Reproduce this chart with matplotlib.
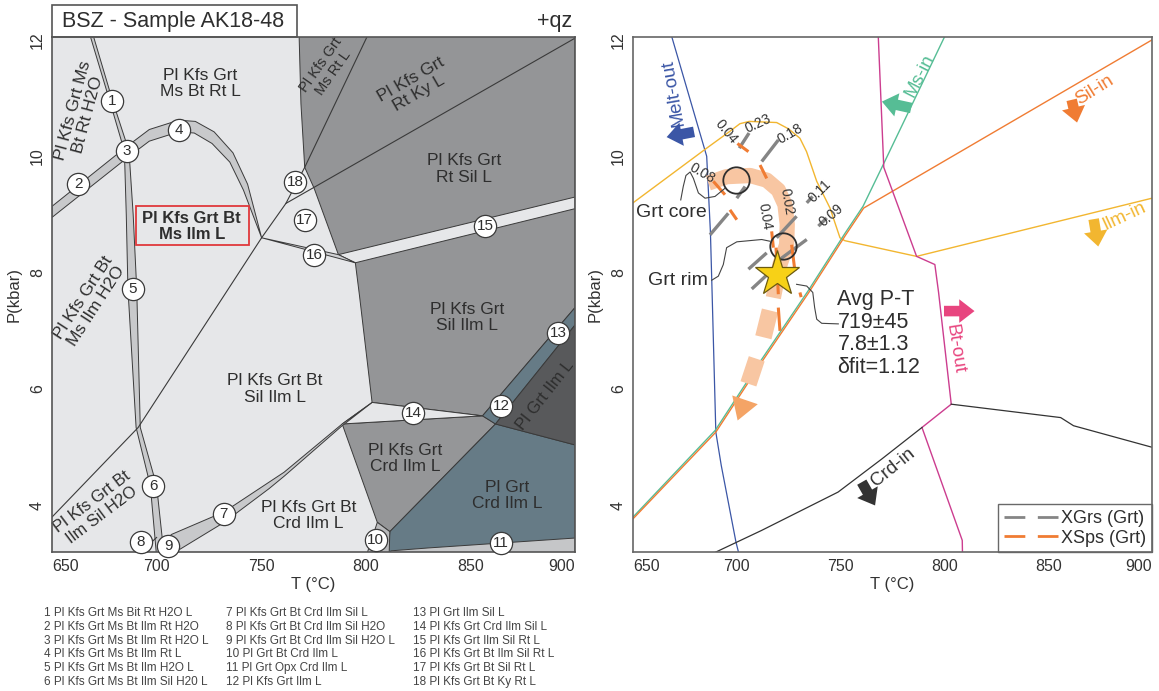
import matplotlib.pyplot as plt
from matplotlib.patches import Polygon, Rectangle
from matplotlib.lines import Line2D

plt.rcParams['font.family'] = ['Liberation Sans', 'DejaVu Sans']

t_range = (650, 900)
p_range = (3.2, 12.05)
t_ticks = [650, 700, 750, 800, 850, 900]
p_ticks = [4, 6, 8, 10, 12]

# ---------------- left panel: pseudosection (T degC, P kbar) ----------------
fld_dark = [(768.1, 12.1), (769.0, 10.9), (770.8, 9.81), (775.3, 9.45), (786.9, 8.31),
            (795.0, 8.17), (797.0, 7.6), (803.0, 5.77), (855.8, 5.54), (900, 7.4), (900, 12.1)]
fld_crd = [(788.7, 5.40), (855.8, 5.54), (862.0, 5.40), (811.5, 3.55), (805.5, 3.71)]
fld_grt_ilm = [(862.0, 5.40), (900, 5.04), (900, 7.1)]
fld_sliver = [(855.8, 5.54), (900, 7.4), (900, 7.1), (862.0, 5.40)]
fld_grt_crd = [(862.0, 5.40), (900, 5.04), (900, 3.0), (810, 3.0), (811.5, 3.55)]
fld_opx = [(811, 3.0), (812, 3.22), (830, 3.27), (900, 3.44), (900, 3.0)]
fld_10 = [(799, 3.0), (805.5, 3.71), (811.5, 3.55), (811, 3.0)]

band_a_l = [(668.0, 12.1), (677.6, 10.95), (684.6, 10.09), (685.5, 9.0), (686.3, 7.72), (690.2, 5.34), (697.0, 4.34), (700.3, 3.0)]
band_a_r = [(669.5, 12.1), (679.0, 10.95), (686.8, 10.09), (688.8, 9.0), (690.5, 7.72), (692.2, 5.34), (700.0, 4.34), (704.0, 3.0)]
band_b_up = [(650, 9.14), (685.8, 10.17), (696.5, 10.46), (710.5, 10.62), (718.5, 10.6),
             (727.5, 10.42), (736.5, 10.06), (743.5, 9.52), (750.2, 8.6)]
band_b_lo = [(650, 8.95), (685.8, 9.97), (696.5, 10.26), (710.5, 10.42), (718.0, 10.4),
             (726.5, 10.22), (735.0, 9.9), (741.5, 9.42), (750.2, 8.6)]
band_c_up = [(703.5, 3.3), (707.0, 3.5), (732.3, 3.89), (760.9, 4.57), (788.7, 5.40), (803.0, 5.77)]
band_c_lo = [(709.0, 3.2), (732.3, 3.71), (753.8, 4.29), (760.9, 4.50), (788.7, 5.37), (803.0, 5.77)]
band_15_up = [(786.9, 8.31), (900, 9.30)]
band_15_lo = [(795.0, 8.17), (900, 9.10)]
band_16 = [(750.2, 8.6), (786.9, 8.31), (795.0, 8.17)]
wedge_14 = [(788.7, 5.40), (803.0, 5.77), (855.8, 5.54)]

line_c = [(750.2, 8.6), (691.2, 5.34), (650, 3.8)]
line_d = [(750.2, 8.6), (761.8, 9.19), (770.8, 9.81), (801.2, 12.1)]
line_kysil = [(761.8, 9.19), (900, 12.03)]
line_8 = [(686.5, 3.0), (700.0, 3.45)]

circles = {1: (678.6, 10.95), 2: (662.5, 9.53), 3: (685.8, 10.09), 4: (710.5, 10.45),
           5: (688.5, 7.72), 6: (698.3, 4.34), 7: (732.0, 3.86), 8: (692.6, 3.37),
           9: (705.5, 3.3), 10: (804.8, 3.4), 11: (864.7, 3.36), 12: (864.7, 5.71),
           13: (892.0, 6.96), 14: (822.7, 5.59), 15: (857.0, 8.81), 16: (775.3, 8.31),
           17: (770.8, 8.91), 18: (766.3, 9.56)}

field_labels = [
    ('Pl Kfs Grt\nMs Bt Rt L', 721.0, 11.25, 0, 12.5),
    ('Pl Kfs Grt Ms\nBt Rt H2O', 663.5, 10.75, 75, 12.5),
    ('Pl Kfs Grt\nMs Rt L', 781.5, 11.5, 55, 10.5),
    ('Pl Kfs Grt\nRt Ky L', 823.5, 11.2, 30, 12.5),
    ('Pl Kfs Grt\nRt Sil L', 847.0, 9.78, 0, 12.5),
    ('Pl Kfs Grt Bt\nMs Ilm H2O', 668.0, 7.5, 57, 12.5),
    ('Pl Kfs Grt\nSil Ilm L', 848.6, 7.23, 0, 12.5),
    ('Pl Kfs Grt Bt\nSil Ilm L', 756.5, 6.0, 0, 12.5),
    ('Pl Grt Ilm L', 885.5, 5.9, 52, 12),
    ('Pl Kfs Grt\nCrd Ilm L', 819.0, 4.8, 0, 12.5),
    ('Pl Grt\nCrd Ilm L', 867.4, 4.17, 0, 12.5),
    ('Pl Kfs Grt Bt\nCrd Ilm L', 772.6, 3.83, 0, 12.5),
    ('Pl Kfs Grt Bt\nIlm Sil H2O', 671.5, 3.95, 37, 12),
]

reactions = ['1 Pl Kfs Grt Ms Bit Rt H2O L', '2 Pl Kfs Grt Ms Bt Ilm Rt H2O',
             '3 Pl Kfs Grt Ms Bt Ilm Rt H2O L', '4 Pl Kfs Grt Ms Bt Ilm Rt L',
             '5 Pl Kfs Grt Ms Bt Ilm H2O L', '6 Pl Kfs Grt Ms Bt Ilm Sil H20 L',
             '7 Pl Kfs Grt Bt Crd Ilm Sil L', '8 Pl Kfs Grt Bt Crd Ilm Sil H2O',
             '9 Pl Kfs Grt Bt Crd Ilm Sil H2O L', '10 Pl Grt Bt Crd Ilm L',
             '11 Pl Grt Opx Crd Ilm L', '12 Pl Kfs Grt Ilm L',
             '13 Pl Grt Ilm Sil L', '14 Pl Kfs Grt Crd Ilm Sil L',
             '15 Pl Kfs Grt Ilm Sil Rt L', '16 Pl Kfs Grt Bt Ilm Sil Rt L',
             '17 Pl Kfs Grt Bt Sil Rt L', '18 Pl Kfs Grt Bt Ky Rt L']

# ---------------- right panel: phase boundaries ----------------
melt_out = [(668.3, 12.1), (685.5, 10.0), (687.3, 8.69), (688.1, 7.66), (689.9, 5.26),
            (692.5, 4.69), (699.6, 3.37), (702.2, 3.0)]
ilm_in = [(650, 9.2), (685.5, 10.14), (696.7, 10.43), (701.5, 10.56), (706.0, 10.6),
          (719.2, 10.58), (725.0, 10.47), (730.4, 10.31), (733.6, 10.08), (738.5, 9.57),
          (744.9, 9.11), (749.7, 8.6), (752.0, 8.55), (786.6, 8.28), (900, 9.28)]
ms_in = [(650, 3.8), (689.6, 5.29), (711.6, 6.49), (734.4, 7.69), (752.0, 8.67),
         (760.8, 9.14), (769.9, 9.81), (800.7, 12.1)]
sil_in = [(650, 3.77), (689.9, 5.26), (711.9, 6.46), (734.7, 7.66), (752.3, 8.64),
          (761.1, 9.11), (900, 12.0)]
bt_out = [(768.1, 12.1), (770.8, 9.81), (786.6, 8.28), (795.4, 8.14), (797.2, 7.66),
          (803.3, 5.74), (789.2, 5.34), (808.6, 3.4), (808.8, 3.0)]
crd_in = [(680.0, 3.03), (686.4, 3.14), (711.9, 3.57), (748.8, 4.23), (769.9, 4.8),
          (789.2, 5.34)]
crd_in_hi = [(803.3, 5.74), (856.0, 5.51), (862.2, 5.37), (900, 5.0)]

xgrs = [((701.2, 10.14), (705.9, 10.40)), ((712.0, 9.91), (720.0, 10.28)),
        ((700.0, 9.28), (704.0, 9.48)), ((687.1, 8.65), (695.9, 9.02)),
        ((719.2, 8.60), (728.8, 8.97)), ((733.7, 9.20), (736.5, 9.31)),
        ((739.3, 8.80), (743.3, 8.94)), ((705.6, 8.06), (714.4, 8.34)),
        ((707.2, 7.72), (718.4, 8.09)), ((720.8, 8.23), (733.7, 8.57))]
xsps = [((700.3, 10.22), (705.6, 10.08)), ((711.2, 9.85), (714.4, 9.62)),
        ((688.7, 9.57), (694.3, 9.34)), ((696.7, 9.08), (700.0, 8.91)),
        ((716.8, 8.71), (717.6, 8.43)), ((718.9, 8.43), (720.0, 7.63)),
        ((726.4, 8.48), (728.0, 8.03)), ((720.0, 7.40), (720.8, 7.00)),
        ((730.4, 7.66), (731.0, 7.58))]
iso_labels = [('0.04', 695.1, 10.42, -50), ('0.23', 710.4, 10.56, 25), ('0.18', 725.6, 10.39, 30),
              ('0.08', 683.1, 9.71, -30), ('0.04', 713.6, 8.97, -80), ('0.02', 724.0, 9.22, -80),
              ('0.11', 740.1, 9.40, 45), ('0.09', 745.5, 8.99, 40)]

pt_path = [(686.3, 9.54), (695.1, 9.65), (706.4, 9.67), (714.4, 9.59), (720.0, 9.42),
           (723.2, 9.17), (724.3, 8.83), (724.0, 8.48), (720.8, 8.14), (717.6, 7.57)]
pt_dashes = [((716.0, 7.35), (712.8, 6.89)), ((709.6, 6.52), (705.6, 6.09))]
pt_head = [(697.8, 5.89), (710.1, 5.74), (700.4, 5.46)]
grt_core = (699.6, 9.59)
grt_rim = (722.3, 8.45)
avg_pt = (719.5, 7.97)
core_leader = [(694.3, 9.45), (689.5, 9.31), (684.7, 9.28), (681.5, 9.37), (679.1, 9.62),
               (677.5, 9.73), (675.5, 9.67), (674.2, 9.48), (673.0, 9.25)]
rim_leader = [(716.0, 8.54), (712.0, 8.57), (700.0, 8.53), (695.1, 8.43), (693.5, 8.14),
              (691.1, 7.94), (687.9, 7.87)]
avg_leader = [(728.8, 7.80), (733.7, 7.77), (736.6, 7.66), (737.5, 7.40), (738.5, 7.20),
              (740.9, 7.13), (748.9, 7.12)]

# name, label pos, rotation, arrow tail, arrow head, colour
boundary_tags = [
    ('Melt-out', (669.3, 11.1), 100, (679.4, 10.42), (666.2, 10.33), '#3b56a6'),
    ('Ms-in', (788.4, 11.39), 63, (784.0, 10.83), (769.9, 10.94), '#56bd95'),
    ('Sil-in', (872.5, 11.14), 32, (861.3, 10.97), (863.9, 10.58), '#f07c33'),
    ('Ilm-in', (886.5, 8.97), 25, (871.9, 8.92), (874.1, 8.45), '#f2b630'),
    ('Bt-out', (805.1, 6.69), -81, (799.8, 7.34), (814.5, 7.34), '#e8457f'),
    ('Crd-in', (775.2, 4.66), 39, (760.2, 4.40), (766.6, 4.00), '#333333'),
]


def style_axes(ax, edge):
    ax.set_xlim(*t_range)
    ax.set_ylim(*p_range)
    ax.set_xticks(t_ticks)
    ax.set_yticks(p_ticks)
    ax.tick_params(length=0, labelsize=11.5, labelcolor='#333333', pad=5)
    ax.tick_params(axis='y', labelrotation=90)
    plt.setp(ax.get_yticklabels(), va='center')
    xl = ax.get_xticklabels()
    xl[0].set_ha('left')
    xl[-1].set_ha('right')
    ax.set_xlabel('T (°C)', fontsize=12, color='#333333', labelpad=2)
    ax.set_ylabel('P(kbar)', fontsize=12, color='#333333', labelpad=6)
    for s in ax.spines.values():
        s.set_color(edge)
        s.set_linewidth(1.2)
        s.set_zorder(6)


def poly(ax, pts, fc, z=1, lw=0.7):
    ax.add_patch(Polygon(pts, closed=True, facecolor=fc, edgecolor='#3a3a3a', lw=lw, zorder=z))


def line(ax, pts, **kw):
    ax.plot([p[0] for p in pts], [p[1] for p in pts], **kw)


fig = plt.figure(figsize=(11.59, 6.91), dpi=100)
axL = fig.add_axes([52 / 1159, 1 - 552 / 691, 523 / 1159, 515 / 691])
axR = fig.add_axes([633 / 1159, 1 - 552 / 691, 519 / 1159, 515 / 691])

# ---------------- left panel ----------------
axL.set_facecolor('#e6e7e9')
poly(axL, fld_dark, '#949597')
poly(axL, fld_crd, '#959698')
poly(axL, fld_grt_crd, '#667b86')
poly(axL, fld_sliver, '#667b86')
poly(axL, fld_grt_ilm, '#58595b')
poly(axL, fld_opx, '#c5c6c8')
poly(axL, fld_10, '#b9babc')
poly(axL, wedge_14, '#e6e7e9')
poly(axL, band_15_up + band_15_lo[::-1], '#e6e7e9', z=2)
poly(axL, band_16, '#cfd0d2', z=2)
poly(axL, band_a_l + band_a_r[::-1], '#c8c9cb', z=2)
poly(axL, band_b_up + band_b_lo[::-1], '#c8c9cb', z=2)
poly(axL, band_c_up + band_c_lo[::-1], '#c8c9cb', z=2)
for pts in (line_c, line_d, line_kysil, line_8):
    line(axL, pts, color='#3a3a3a', lw=0.8, zorder=2)

for txt, t, p, rot, fs in field_labels:
    axL.text(t, p, txt, rotation=rot, rotation_mode='anchor', ha='center', va='center',
             fontsize=fs, color='#2e2e2e', linespacing=1.1, zorder=3)
axL.text(716.8, 8.80, 'Pl Kfs Grt Bt\nMs Ilm L', ha='center', va='center', fontsize=12,
         fontweight='bold', color='#2e2e2e', linespacing=1.1, zorder=3)
axL.add_patch(Rectangle((690.0, 8.47), 54.3, 0.67, fill=False, edgecolor='#e0383c', lw=1.3, zorder=3))

for num, (t, p) in circles.items():
    axL.plot(t, p, 'o', ms=16, mfc='white', mec='#3a3a3a', mew=0.9, zorder=7, clip_on=False)
    axL.text(t, p, str(num), ha='center', va='center', fontsize=11, color='#2e2e2e', zorder=8)

style_axes(axL, '#555555')
axL.add_patch(Rectangle((0, 1.0), 0.468, 0.062, transform=axL.transAxes, facecolor='white',
                        edgecolor='#555555', lw=1.2, clip_on=False, zorder=6))
axL.text(0.02, 1.031, 'BSZ - Sample AK18-48', transform=axL.transAxes, ha='left', va='center',
         fontsize=15.5, color='#2e2e2e', zorder=9)
axL.text(0.995, 1.031, '+qz', transform=axL.transAxes, ha='right', va='center',
         fontsize=15.5, color='#2e2e2e', zorder=9)

# reaction list below the left panel
col_x = [44, 226, 413]
for i, txt in enumerate(reactions):
    c, r = divmod(i, 6)
    fig.text(col_x[c] / 1159, 1 - (613 + 13.8 * r) / 691, txt, fontsize=8.5, color='#444444',
             ha='left', va='center')

# ---------------- right panel ----------------
axR.set_facecolor('white')
line(axR, melt_out, color='#3b56a6', lw=0.9, zorder=2)
line(axR, ilm_in, color='#f2b630', lw=1.0, zorder=2)
line(axR, ms_in, color='#56bd95', lw=1.0, zorder=2)
line(axR, sil_in, color='#f07c33', lw=1.0, zorder=2)
line(axR, bt_out, color='#cc3d8f', lw=1.0, zorder=2)
line(axR, crd_in, color='#333333', lw=0.9, zorder=2)
line(axR, crd_in_hi, color='#333333', lw=0.9, zorder=2)

line(axR, pt_path, color='#f8c6a2', lw=11, solid_capstyle='butt', zorder=3)
for seg in pt_dashes:
    line(axR, seg, color='#f8c6a2', lw=12, solid_capstyle='butt', zorder=3)
axR.add_patch(Polygon(pt_head, closed=True, facecolor='#f4a466', edgecolor='none', zorder=3))

for seg in xgrs:
    line(axR, seg, color='#858585', lw=2.4, solid_capstyle='butt', zorder=4)
for seg in xsps:
    line(axR, seg, color='#f07c33', lw=2.2, solid_capstyle='butt', zorder=4)
for txt, t, p, rot in iso_labels:
    axR.text(t, p, txt, rotation=rot, rotation_mode='anchor', ha='center', va='center',
             fontsize=10, color='#333333', zorder=5)

for c in (grt_core, grt_rim):
    axR.plot(*c, 'o', ms=19, mfc='none', mec='#2e2e2e', mew=1.3, zorder=5)
axR.plot(*avg_pt, '*', ms=34, mfc='#f7d117', mec='#6b5a10', mew=0.9, zorder=6)

for pts in (core_leader, rim_leader, avg_leader):
    line(axR, pts, color='#444444', lw=0.8, zorder=5)
axR.text(668.6, 9.04, 'Grt core', ha='center', va='center', fontsize=14, color='#2e2e2e', zorder=5)
axR.text(671.8, 7.86, 'Grt rim', ha='center', va='center', fontsize=14, color='#2e2e2e', zorder=5)
axR.text(748.5, 7.72, 'Avg P-T\n719±45\n7.8±1.3\nδfit=1.12', ha='left', va='top',
         fontsize=15.5, color='#2e2e2e', linespacing=1.1, zorder=5)

for name, pos, rot, tail, head, col in boundary_tags:
    axR.text(pos[0], pos[1], name, rotation=rot, rotation_mode='anchor', ha='center',
             va='center', fontsize=13.5, color=col, zorder=5)
    axR.annotate('', xy=head, xytext=tail,
                 arrowprops=dict(arrowstyle='simple,head_length=0.55,head_width=0.85,tail_width=0.38',
                                 color=col, lw=0, shrinkA=0, shrinkB=0, mutation_scale=20), zorder=5)

handles = [Line2D([], [], color='#858585', lw=2, dashes=(7.5, 4.5), dash_capstyle='butt'),
           Line2D([], [], color='#f07c33', lw=2, dashes=(7.5, 4.5), dash_capstyle='butt')]
leg = axR.legend(handles, ['XGrs (Grt)', 'XSps (Grt)'], loc='lower right', fontsize=13,
                 frameon=True, fancybox=False, borderaxespad=0, handlelength=3.0,
                 handletextpad=0.2, borderpad=0.3, labelspacing=0.15)
leg.get_frame().set_edgecolor('#444444')
leg.get_frame().set_linewidth(1.0)
for t in leg.get_texts():
    t.set_color('#2e2e2e')

style_axes(axR, '#666666')

fig.savefig('out.png', dpi=100)
